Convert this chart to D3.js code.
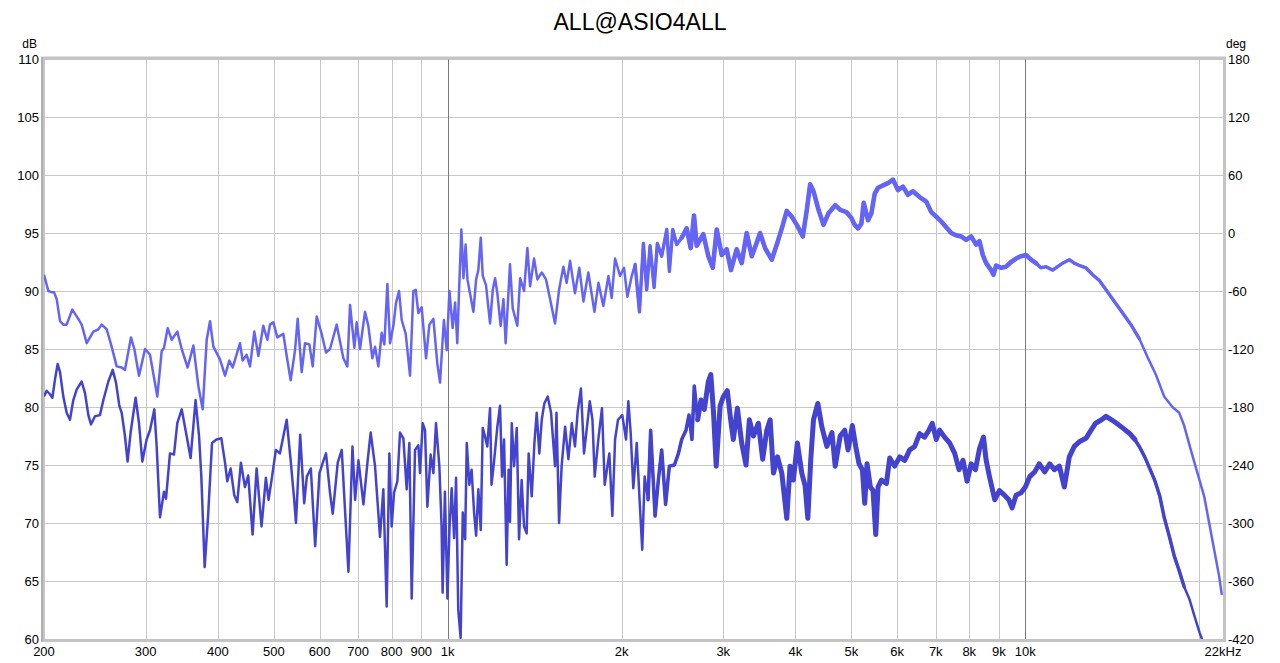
<!DOCTYPE html>
<html><head><meta charset="utf-8">
<script src="https://cdn.jsdelivr.net/npm/d3@7"></script>
<style>
html,body{margin:0;padding:0;background:#fff;}
svg text{font-family:"Liberation Sans",Arial,sans-serif;fill:#000;}
</style></head>
<body>
<svg id="chart" width="1280" height="663"></svg>
<script>
const title = "ALL@ASIO4ALL";
const xTicks = [200,300,400,500,600,700,800,900,1000,2000,3000,4000,5000,6000,7000,8000,9000,10000,20000];
const xTickLabels = ["200","300","400","500","600","700","800","900","1k","2k","3k","4k","5k","6k","7k","8k","9k","10k",""];
const xEndLabel = "22kHz";
const dbTicks = [60,65,70,75,80,85,90,95,100,105,110];
const degTicks = [-420,-360,-300,-240,-180,-120,-60,0,60,120,180];

// Upper trace (light blue)
const freqA = [200,203.5,206.2,208.1,210.4,213.2,216,218.9,223.9,229.3,232.4,237.1,243.5,248.4,251.7,256.8,261.9,267.2,272.6,276.2,282.9,286.7,292.1,299.2,305.2,314.2,319.7,322.7,327.5,332.7,340.3,346.3,354.6,362.8,370.1,376.5,382.6,387.7,392.9,403.4,411.6,418.7,424.3,436.9,441.6,448.7,454.7,462.6,470.1,479.5,487.2,492.4,499,507,519.3,526.3,534.7,544.1,549.9,558.7,566.2,576.1,583.8,593.2,605.1,615.6,625.5,642.4,659.7,670.3,677.5,689.3,695.7,705,719.2,728.8,740.6,748.5,758.5,768.6,776.9,786.2,794.6,805.3,813.9,823.7,832.5,845.9,860.6,872.1,880.3,889.7,901.6,917.3,929.6,944.5,959.7,
970,980,985,996,1007,1020,1030,1039,1046,1056,1065,1074,1082,1093,1108,1120,1130,1141,1150,1165,1184,1197,1208,1219,1235,1249,1260,1282,1296,1320,1335,1356,1374,1389,1411,1430,1455,1480,1504,1534,1559,1586,1607,1629,1661,1690,1718,1752,1795,1824,1860,1898,1923,1949,1988,2020,2047,2083,2111,2148,2182,2211,2241,2277,2307,2347,2395,2420,2453,2492,2542,2593,2635,2670,2699,2771,2827,2877,2923,2982,3041,3094,3165,3229,3294,3361,3419,3474,3544,3640,3714,3789,3865,3943,4023,4120,4186,4242,4299,4386,4474,4564,4688,4782,
4901,5000,5067,5135,5203,5252,5343,5415,5488,5561,5673,5787,5903,6021,6142,6265,6391,6564,6741,6876,7014,7155,7298,7445,7594,7747,7902,8061,8222,8332,8444,8557,8728,8810,8904,9082,9265,9451,9640,9834,10031,10233,10438,10647,10861,11155,11379,11607,11921,12160,12404,12739,13083,13437,13800,14264,14745,15241,15754,16284,16832,17399,17985,18470,18842,19350,19873,20409,20820,21239,21666,21898];
const dbA = [91.4,90.0,89.9,89.9,89.3,87.4,87.1,87.1,88.4,87.6,87.1,85.5,86.5,86.7,87.1,86.7,85.2,83.5,83.4,83.2,86.0,85.0,82.7,85.0,84.5,80.9,84.8,85.1,86.8,85.8,86.5,85.0,83.4,85.3,81.8,79.8,85.8,87.4,85.2,84.1,82.7,84.0,83.4,85.5,84.0,84.5,83.5,86.5,84.4,87.0,85.8,87.1,87.3,86.0,86.3,84.4,82.3,84.9,87.6,83.0,85.5,85.4,83.5,87.8,86.3,84.7,85.0,87.1,84.2,83.5,88.8,85.1,87.3,85.0,88.2,87.0,84.2,85.2,83.5,86.4,85.4,90.6,85.5,87.0,89.0,90.0,87.5,86.3,82.7,90.0,90.1,88.1,88.6,84.2,87.1,87.6,83.7,
82.1,85.8,87.5,84.9,90.0,86.8,89.0,85.5,89.8,95.3,91.1,94.0,91.0,89.8,88.2,91.0,91.8,94.6,91.3,90.5,87.2,90.1,91.1,89.8,87.0,89.3,85.5,92.3,88.5,87.0,91.1,90.0,93.7,90.4,92.8,91.0,91.6,91.0,89.3,87.2,90.1,92.1,90.7,92.6,89.8,92.0,89.1,91.6,88.2,90.7,88.7,91.3,89.4,92.8,91.3,92.0,89.5,91.3,92.3,88.2,94.1,90.1,93.9,90.3,94.1,93.0,95.3,91.7,95.3,94.0,94.6,95.4,93.7,96.5,93.9,94.9,93.0,92.0,95.3,93.1,93.6,91.8,93.6,92.4,95.0,93.0,94.0,95.0,93.7,92.7,94.0,95.4,96.9,96.4,95.7,94.7,97.0,99.2,98.6,97.0,95.7,96.7,97.4,97.0,
96.8,96.3,95.7,95.4,95.8,97.6,96.1,96.7,98.4,98.9,99.1,99.3,99.6,98.7,99.0,98.3,98.6,98.1,97.7,96.8,96.4,96.0,95.5,95.0,94.8,94.7,94.4,94.7,94.0,94.3,93.1,92.4,91.8,91.4,92.2,92.0,92.1,92.5,92.8,93.0,93.1,92.7,92.4,92.0,92.1,91.8,92.1,92.4,92.7,92.4,92.2,92.0,91.4,90.9,90.1,89.1,88.1,87.1,85.9,84.3,82.8,80.9,80.0,79.5,78.4,76.3,74.3,72.3,70.0,67.7,65.4,63.8];

// Lower trace (dark blue)
const freqB = [200,202.1,204.8,206.8,209,211.2,213.2,216,218.9,221.8,224.8,227.8,232.4,235.5,238.7,241.2,245.1,250,253.4,258.5,263,266.5,270.1,272.6,276.2,279.1,282.5,288.2,292.1,296,301.1,305.2,310.5,313.4,317.6,322.7,325.3,330.5,335.8,340.3,346.3,353.2,358.8,366,371.1,374.5,379.5,384.6,390.8,397.7,405.6,411.6,415.3,420.9,427,432.2,438.5,445.6,451.5,459.4,466.8,476.1,484.4,489.6,495.5,504.1,512.2,526.3,534.7,542.3,546.1,555.4,564.3,570.3,579.5,589.6,599.8,607.8,615.6,625.5,632.4,645.1,655.5,661.6,673.2,684.1,691.4,700.6,714.7,726.2,735.6,748.5,763.5,773.7,784.1,792.5,799.9,807.4,818.2,826.9,838,849.2,858.3,866.3,877.9,889.7,895.5,905.1,913.6,922.1,934.4,944.5,954.5,967.3,
976,980,989,999,1007,1016,1026,1034,1043,1053,1062,1072,1079,1090,1100,1111,1120,1130,1141,1150,1160,1171,1184,1191,1203,1219,1232,1242,1252,1265,1275,1282,1291,1303,1317,1329,1343,1356,1370,1381,1398,1413,1426,1441,1455,1470,1490,1510,1534,1543,1559,1575,1597,1618,1640,1661,1679,1701,1722,1740,1762,1781,1797,1824,1850,1870,1905,1928,1949,1972,2006,2036,2055,2074,2096,2125,2148,2172,2193,2223,2246,2286,2316,2347,2384,2420,2469,2509,2542,2586,2617,2648,2673,2709,2745,2782,2827,2855,2886,2917,2963,3001,3049,3090,3123,3174,3229,3285,3329,3383,3451,3511,3569,3617,3665,3724,3789,3865,3915,3968,4031,4103,4158,4203,4253,4299,4374,4444,4534,4627,4688,4782,
4869,4934,5020,5087,5155,5224,5273,5322,5394,5451,5510,5561,5635,5749,5826,5943,6063,6185,6309,6436,6564,6695,6811,6902,7014,7108,7250,7396,7549,7680,7804,7930,8061,8201,8332,8466,8557,8671,8855,9022,9203,9364,9489,9640,9834,10005,10180,10381,10579,10805,11024,11232,11458,11685,11921,12160,12404,12739,13001,13242,13558,13800,14108,14392,14745,15176,15478,15754,16103,16427,16753,17102,17399,17770,18127,18470,18842,19255,19653,20054,20269];
const dbB = [80.9,81.4,81.1,80.8,82.4,83.7,83.0,80.9,79.5,78.9,80.6,81.5,82.2,81.2,79.3,78.5,79.2,79.3,80.6,82.2,83.2,82.1,80.1,79.5,77.5,75.3,77.8,80.8,78.6,75.3,77.2,78.0,79.8,76.6,70.5,72.7,72.1,76.0,75.9,78.6,79.8,77.5,75.6,80.6,77.5,74.0,66.2,70.5,76.9,77.2,77.3,75.2,73.6,74.7,72.4,71.8,75.2,73.1,74.1,69.0,74.7,69.7,73.9,72.0,73.7,76.3,76.0,78.9,75.4,72.0,70.0,77.6,71.7,74.0,74.7,68.0,74.3,75.2,76.0,72.6,70.8,75.2,76.3,72.6,65.8,76.6,72.0,75.4,71.6,75.2,77.8,74.9,68.8,72.9,62.8,76.0,69.7,72.6,73.6,77.8,77.3,72.9,76.9,63.5,76.3,76.7,74.3,78.6,78.0,71.4,75.9,74.3,78.6,74.9,
69.7,64.0,72.7,63.5,69.4,73.0,68.7,73.9,62.5,60.1,70.9,68.6,76.9,73.3,74.6,70.9,68.9,72.9,69.4,78.2,77.5,76.6,79.9,73.3,75.3,78.3,80.1,74.0,77.2,66.4,74.6,70.1,78.6,74.9,78.2,68.6,73.7,69.7,69.1,76.0,72.3,76.9,79.5,76.0,78.9,80.3,80.9,79.5,74.9,79.5,70.0,74.9,78.3,75.5,78.6,76.6,79.6,81.6,76.0,78.0,80.5,78.9,74.0,77.3,79.9,73.3,76.0,70.6,77.2,78.9,79.3,77.2,80.5,77.8,73.0,76.9,72.2,67.7,74.0,72.0,78.0,70.6,73.7,76.3,71.6,74.9,75.0,76.0,77.2,78.0,79.3,77.2,81.8,78.9,80.6,79.8,82.2,82.8,79.5,74.9,80.1,80.9,81.4,78.9,77.2,79.9,76.9,75.0,78.9,77.5,78.6,75.5,78.0,78.9,74.3,75.7,74.3,70.4,74.9,73.7,76.9,74.3,73.2,70.4,75.5,78.9,80.3,78.3,76.6,77.8,74.9,77.5,
78.0,76.3,78.4,76.6,75.1,74.6,71.7,75.1,73.1,72.8,69.0,73.1,73.7,73.4,75.6,74.9,75.7,75.4,76.3,76.6,77.7,77.4,78.0,78.6,77.2,78.0,77.4,76.9,76.0,74.6,75.4,73.6,75.1,74.6,76.4,77.4,75.4,74.0,72.0,72.8,72.4,72.0,71.3,72.4,72.6,73.1,74.0,74.4,75.1,74.4,75.1,74.6,74.9,73.1,75.7,76.6,77.0,77.3,78.0,78.6,78.9,79.2,78.9,78.6,78.2,77.7,77.2,76.6,75.7,74.7,73.7,72.3,70.5,68.8,67.1,65.9,64.5,63.4,61.9,60.5,59.9];

const colorA = "#6464f6";
const colorB = "#4343cf";

const svg = d3.select("#chart");
const L = 44, R = 1223, T = 59, B = 639;
const x = d3.scaleLog().domain([200, 22000]).range([L, R]);
const y = d3.scaleLinear().domain([60, 110]).range([B, T]);
const yR = d3.scaleLinear().domain([-420, 180]).range([B, T]);

// title
svg.append("text").attr("x", 640).attr("y", 30).attr("text-anchor", "middle")
  .style("font-size", "23px").text(title);

// grid
const g = svg.append("g");
g.selectAll(".hg").data(dbTicks).join("line")
  .attr("x1", L).attr("x2", R).attr("y1", d => y(d)).attr("y2", d => y(d))
  .attr("stroke", "#c8c8c8").attr("stroke-width", 1).attr("shape-rendering", "crispEdges");
g.selectAll(".vg").data(xTicks).join("line")
  .attr("x1", d => Math.round(x(d)) + 0.5).attr("x2", d => Math.round(x(d)) + 0.5)
  .attr("y1", T).attr("y2", B)
  .attr("stroke", d => (d === 1000 || d === 10000) ? "#7a7a7a" : "#c8c8c8")
  .attr("stroke-width", 1);

// clip
svg.append("clipPath").attr("id", "clip").append("rect")
  .attr("x", L).attr("y", T).attr("width", R - L).attr("height", B - T);

const line = d3.line().x(d => x(d[0])).y(d => y(d[1]));
const dataA = freqA.map((f, i) => [f, dbA[i]]);
const dataB = freqB.map((f, i) => [f, dbB[i]]);
const plot = svg.append("g").attr("clip-path", "url(#clip)");

function trace(data, color, bands) {
  plot.append("path").datum(data).attr("d", line).attr("fill", "none")
    .attr("stroke", color).attr("stroke-width", 2.5).attr("stroke-linejoin", "round");
  bands.forEach(([lo, hi, w]) => {
    plot.append("path").datum(data.filter(d => d[0] >= lo && d[0] <= hi)).attr("d", line)
      .attr("fill", "none").attr("stroke", color).attr("stroke-width", w)
      .attr("stroke-linejoin", "round").attr("stroke-linecap", "round");
  });
}
trace(dataB, colorB, [[2200, 19000, 3.5], [2700, 15500, 5]]);
trace(dataA, colorA, [[2100, 16000, 3.4], [2500, 10500, 4.6]]);

// frame
svg.append("rect").attr("x", L - 1.5).attr("y", T - 1).attr("width", R - L + 3).attr("height", B - T + 2.5)
  .attr("fill", "none").attr("stroke", "#c4c4c4").attr("stroke-width", 3);
svg.append("line").attr("x1", L - 2).attr("x2", L - 2).attr("y1", T - 2).attr("y2", B + 3)
  .attr("stroke", "#b0b0b0").attr("stroke-width", 2);

// left axis labels
svg.append("g").selectAll("text").data(dbTicks).join("text")
  .attr("x", 39).attr("y", d => y(d)).attr("dy", "0.35em").attr("text-anchor", "end")
  .style("font-size", "13px").text(d => d);
svg.append("text").attr("x", 37).attr("y", 48).attr("text-anchor", "end").style("font-size", "12px").text("dB");

// right axis labels
svg.append("g").selectAll("text").data(degTicks).join("text")
  .attr("x", 1228).attr("y", d => yR(d)).attr("dy", "0.35em").attr("text-anchor", "start")
  .style("font-size", "13px").text(d => d);
svg.append("text").attr("x", 1226).attr("y", 48).attr("text-anchor", "start").style("font-size", "12px").text("deg");

// x labels
svg.append("g").selectAll("text").data(xTicks).join("text")
  .attr("x", d => x(d)).attr("y", 656).attr("text-anchor", "middle")
  .style("font-size", "13px").text((d, i) => xTickLabels[i]);
svg.append("text").attr("x", x(22000)).attr("y", 656).attr("text-anchor", "middle")
  .style("font-size", "13px").text(xEndLabel);
</script>
</body></html>
